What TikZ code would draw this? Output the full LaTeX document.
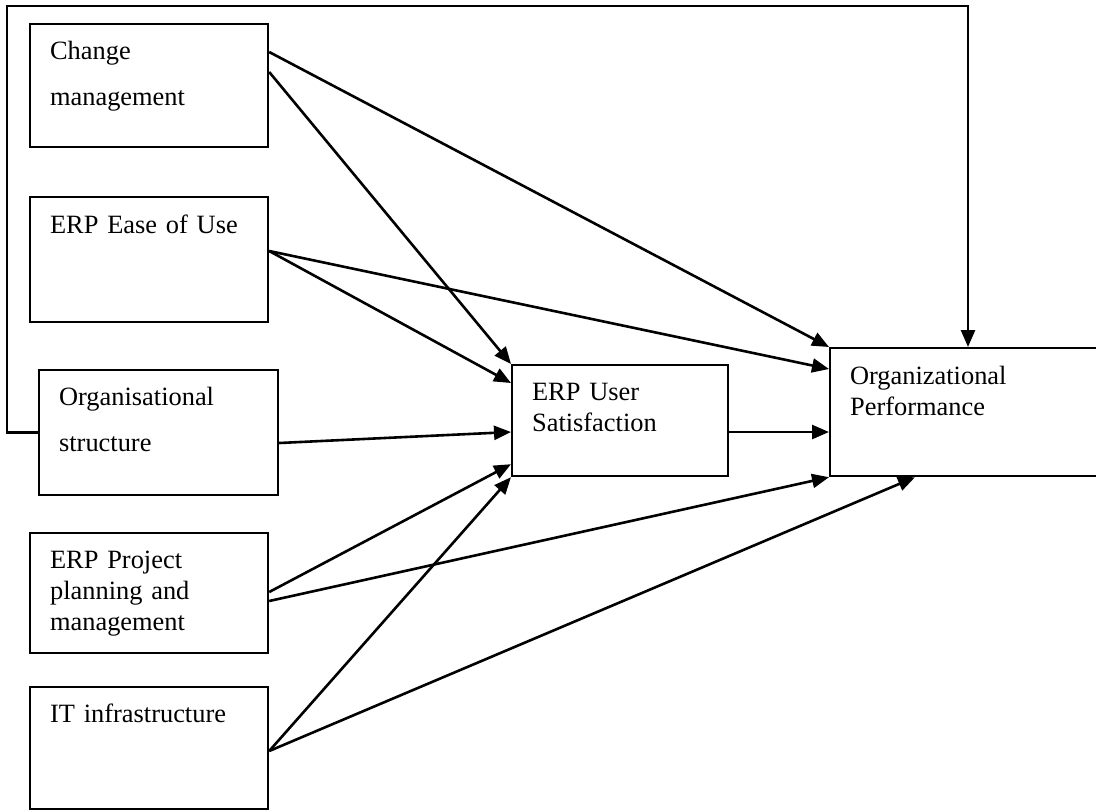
\documentclass[tikz,border=0pt]{standalone}
\usepackage{fontspec}
\setmainfont{Liberation Serif}
\usetikzlibrary{arrows.meta,calc}

\begin{document}
\begin{tikzpicture}[x=0.5pt,y=-0.5pt,
    block/.style={draw, line width=1.1pt, anchor=north west, inner xsep=10pt, inner ysep=0pt,
        align=left, text height=17.5pt, font=\fontsize{13.2pt}{15.5pt}\selectfont},
    link/.style={line width=1.3pt, -{Triangle[length=8.5pt,width=7pt]}}]
    \useasboundingbox (0,0) rectangle (1096,810);

    % --- Factors on the left ---
    \node[block, text width=99pt, text depth=44pt] (change) at (29,23) {Change\\[7.5pt]management};
    \node[block, text width=99pt, text height=18pt, text depth=44.5pt] (ease) at (29,196) {ERP Ease of Use};
    \node[block, text width=99.5pt, text depth=45pt] (struct) at (38,369) {Organisational\\[7.5pt]structure};
    \node[block, text width=99pt, text depth=42.5pt] (plan) at (29,532) {ERP Project\\planning and\\management};
    \node[block, text width=99pt, text depth=43.5pt] (infra) at (29,686) {IT infrastructure};
    % ---

    % --- Mediator and outcome ---
    \node[block, text width=88pt, text depth=38pt] (satis) at (511,364) {ERP User\\Satisfaction};
    \node[block, text width=120pt, text height=18pt, text depth=46pt] (perf) at (829,347) {Organizational\\Performance};
    % ---

    % --- Paths to satisfaction and performance ---
    \draw[link] ($(change.north east)+(0,29)$) -- (perf.north west);
    \draw[link] ($(change.north east)+(0,49)$) -- (satis.north west);
    \draw[link] ($(ease.north east)+(0,55)$) -- ($(satis.north west)+(0,19)$);
    \draw[link] ($(ease.north east)+(0,55)$) -- ($(perf.north west)+(0,22)$);
    \draw[link] ($(struct.north east)+(0,74)$) -- ($(satis.north west)+(0,68)$);
    \draw[link] ($(plan.north east)+(0,60)$) -- ($(satis.south west)+(0,-13)$);
    \draw[link] ($(plan.north east)+(0,69)$) -- (perf.south west);
    \draw[link] ($(infra.north east)+(0,65)$) -- (satis.south west);
    \draw[link] ($(infra.north east)+(0,65)$) -- ($(perf.south west)+(86,0)$);
    \draw[link] ($(satis.north east)+(0,68)$) -- ($(perf.north west)+(0,85)$);
    % ---

    % --- Direct path from structure over the top ---
    \coordinate (loopL) at (7,6);
    \coordinate (loopR) at (968,6);
    \draw[link] (struct.west) -| (loopL) -- (loopR) -- (loopR |- perf.north);
    % ---
\end{tikzpicture}
\end{document}
